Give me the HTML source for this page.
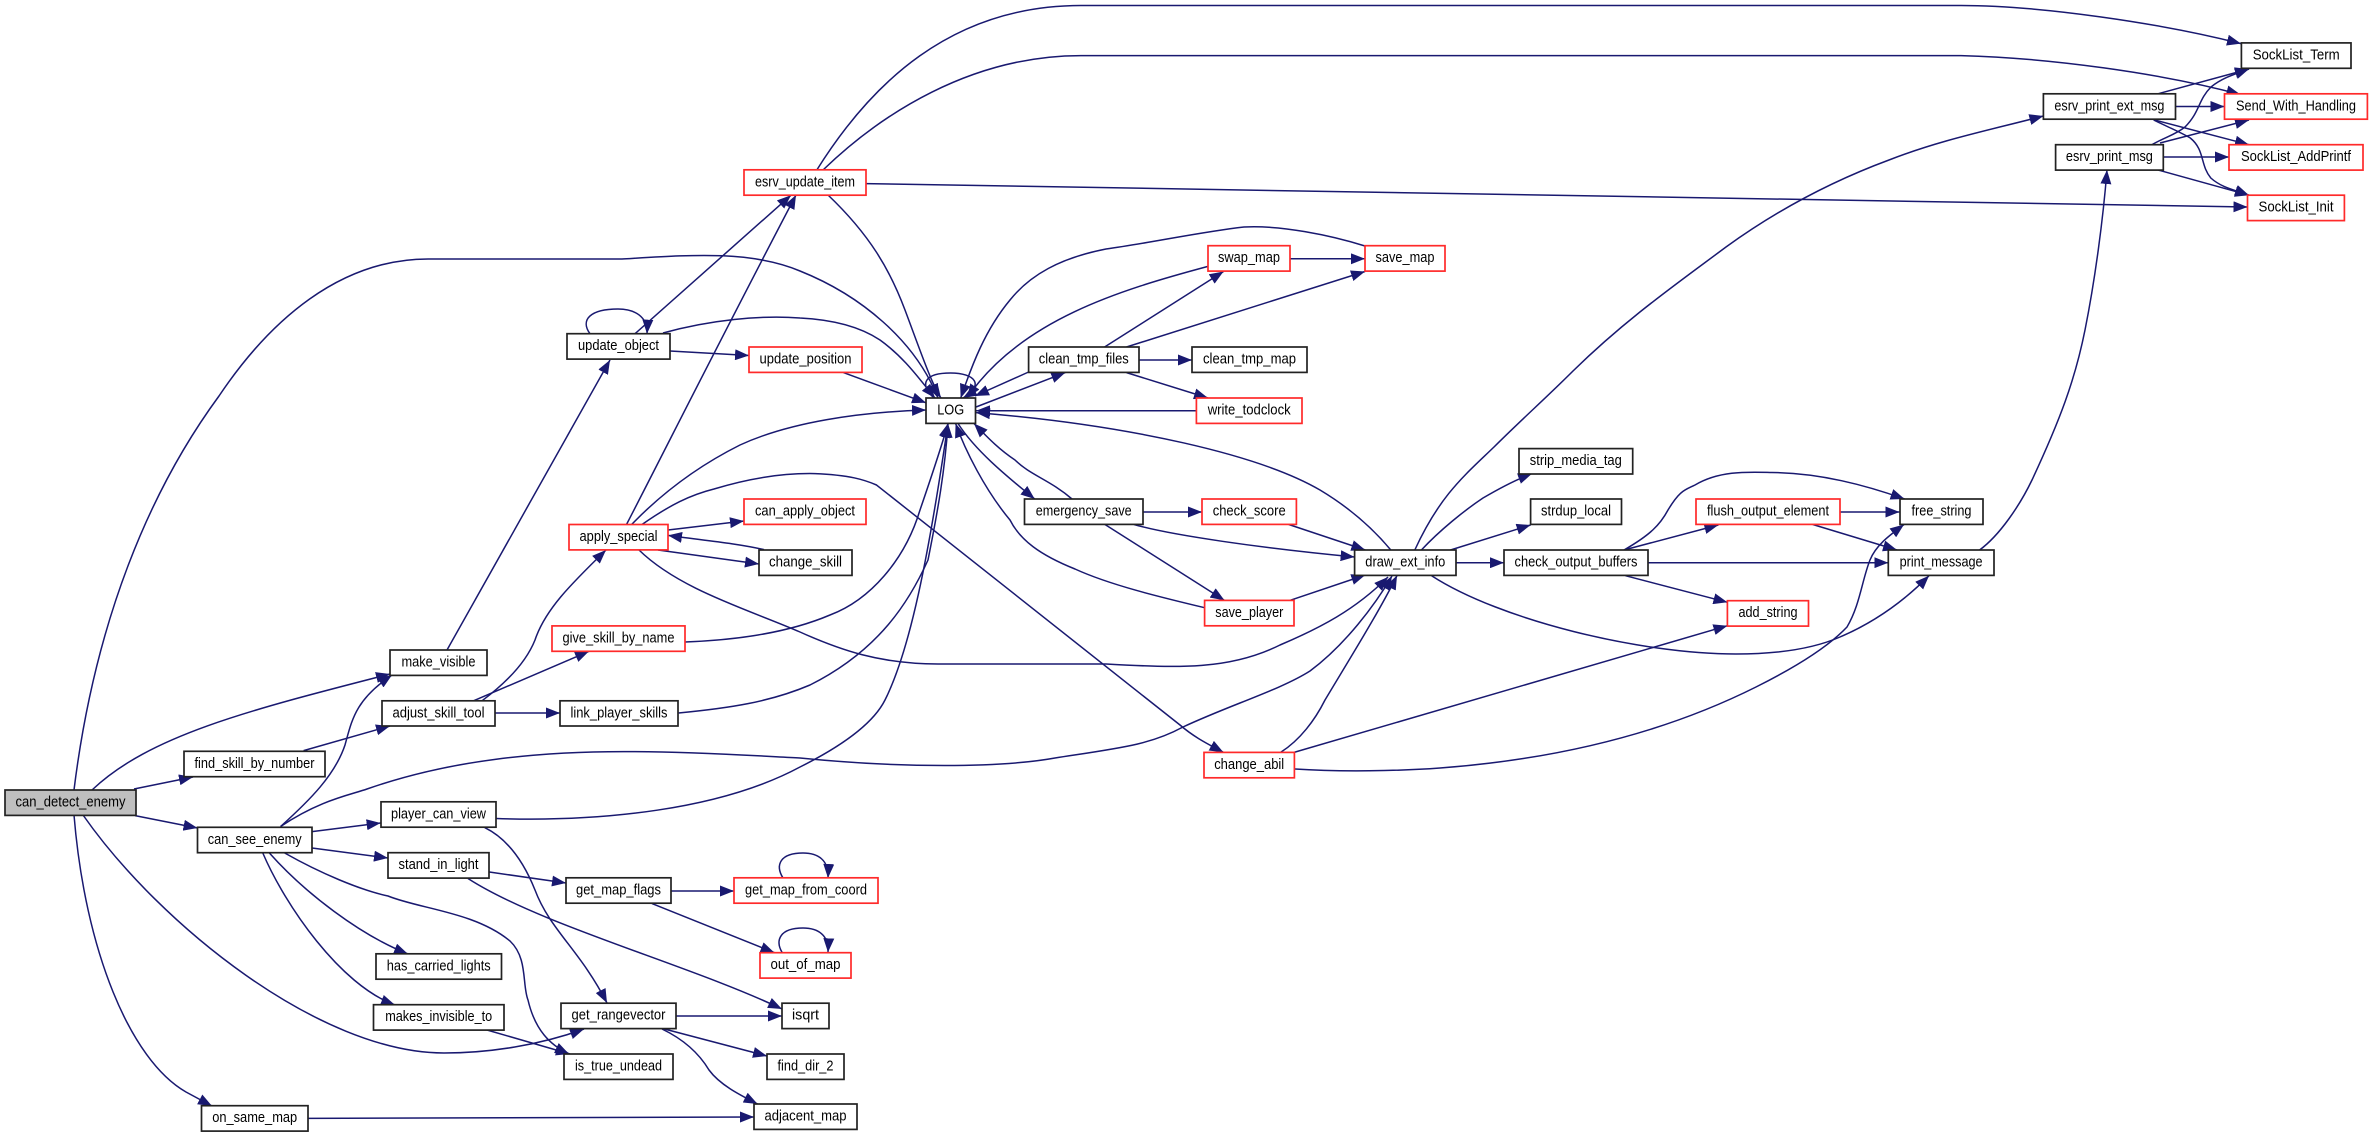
<!DOCTYPE html>
<html><head><meta charset="utf-8"><title>can_detect_enemy call graph</title>
<style>
html,body{margin:0;padding:0;background:#fff}
svg{display:block}
.e path,.e line{fill:none;stroke:#191970;stroke-width:1.5;marker-end:url(#a)}
.n rect{fill:#fff;stroke:#222;stroke-width:1.7}
.r rect{fill:#fff;stroke:#ff2a2a;stroke-width:1.7}
text{font-family:"Liberation Sans",sans-serif;font-size:15px;fill:#000;text-anchor:middle;transform:translateY(-.5px)}
</style></head><body>
<svg xmlns="http://www.w3.org/2000/svg" width="2373" height="1137" viewBox="0 0 2373 1137">
<defs><marker id="a" markerUnits="userSpaceOnUse" markerWidth="14" markerHeight="11" viewBox="0 0 14 11" refX="14" refY="5.5" orient="auto"><path d="M0,0L14,5.5L0,11Z" fill="#191970"/></marker></defs>
<g class="e">
<path d="M74,790 C95,620 150,490 219,396 C270,320 340,259 428,259 L622,259 C690,255 750,250 800,271 C860,295 915,340 938,398"/>
<path d="M92,790 C150,735 250,710 390,674"/>
<path d="M134,789 L193,777"/>
<path d="M135,815.6 L197.5,828"/>
<path d="M83,815 C160,925 320,1053 444,1053 C490,1053 540,1045 584,1029"/>
<path d="M74,815 C85,950 130,1060 186,1092 L212,1106"/>
<path d="M308,1118.4 L754,1117"/>
<path d="M303.6,750.6 L390,726"/>
<path d="M280.6,826.5 C310,800 335,775 345,745 C352,720 355,700 392,675"/>
<path d="M280.6,826.5 C320,800 350,795 367,789 C450,760 540,751 632,751.6 C700,752 760,756 800,758 C900,768 1000,768 1055,758 C1120,748 1150,745 1183,727 C1230,705 1280,690 1310,671 C1345,645 1375,605 1392,576"/>
<path d="M312,831.6 L380.6,823"/>
<path d="M312,848 L388,858"/>
<path d="M284.7,853 C320,873 360,890 388,896 C420,909 475,912 510,941 C528,958 522,985 528,1000 C535,1030 550,1045 569,1054"/>
<path d="M269.4,853 C305,893 360,935 408,954"/>
<path d="M262.8,853 C285,905 340,985 395,1005"/>
<path d="M487,1030 L570,1054"/>
<path d="M447,650 L610,360"/>
<path d="M473.5,700.8 L589,651.3"/>
<path d="M495.4,713 L560,713"/>
<path d="M482,700.8 C510,680 527,660 535,640 C545,610 570,585 606,550"/>
<path d="M685,642 C740,640 790,632 830,615 C870,600 905,560 920,510 C932,475 942,445 948,423.5"/>
<path d="M678.6,713 C730,708 770,702 810,685 C880,650 910,600 928,560 C938,510 945,470 948,423.5"/>
<path d="M496.4,818.5 C600,822 720,810 800,767 C850,742 875,720 885,700 C910,650 928,560 948,423.5"/>
<path d="M484.7,827.6 C510,840 525,865 535,890 C550,930 580,950 607,1003"/>
<path d="M489.3,872 L566,883"/>
<path d="M468,878.5 C540,925 690,965 782,1009"/>
<path d="M671,891 L734,891"/>
<path d="M652,903.6 L774.5,952.7"/>
<path d="M783,878 C775,865 780,853 803,853 C818,853 829,860 828,878"/>
<path d="M782,952.3 C775,940 780,928 803,928 C818,928 829,935 828,952.3"/>
<path d="M590,333.7 C580,320 590,309 618,309 C635,309 648,317 647,333.7"/>
<path d="M934,398 C918,383 926,373 950.5,373 C975,373 985,385 963,398"/>
<path d="M635,333.7 L791,195.2"/>
<path d="M663,333 C710,320 760,315 800,318 C840,320 865,330 880,340 C905,358 920,380 935,398"/>
<path d="M670,351 L749,355.5"/>
<path d="M843.4,372.6 L926,402.8"/>
<path d="M626.5,524.5 C665,450 720,340 796,195"/>
<path d="M631.6,524.5 C665,490 700,465 740,445 C790,422 860,412 926,410"/>
<path d="M642,524.5 C670,505 690,495 714,489 C750,478 785,473 815,473.6 C850,475 865,480 876.5,485 L1180,725 C1195,738 1210,745 1223.5,752.4"/>
<path d="M668,530 L744,521"/>
<path d="M658,550 L759,564"/>
<path d="M764,549.6 C735,543 700,540 668,535.4"/>
<path d="M639,550 C680,590 750,610 800,632 C840,650 880,664 938,664 L1106,664 C1180,668 1230,670 1280,645 C1320,628 1355,610 1388,577"/>
<path d="M816.8,170 C870,85 950,5.5 1081,5.5 L1961,5.5 C2040,5.5 2160,23 2241,43.6"/>
<path d="M823,170 C880,115 970,55.6 1081,55.6 L1961,55.6 C2050,58 2160,73 2240.4,94.5"/>
<path d="M866,183.6 L2247.5,207"/>
<path d="M828,195 C870,235 890,270 905,310 C920,350 932,385 941,398"/>
<path d="M1208,266.4 C1120,290 1020,320 967,398"/>
<path d="M1365,246 C1330,235 1280,225 1244,227 C1200,232 1150,243 1106,249 C1060,258 1030,275 1010,300 C985,330 972,365 960.7,398"/>
<path d="M976,407 L1065.3,372.6"/>
<path d="M1028.6,372 L975,396"/>
<path d="M1139,360 L1192,360"/>
<path d="M1126.5,372.6 L1208,398"/>
<path d="M1104.6,347 L1223.5,271.5"/>
<path d="M1126.5,347 L1365,271.5"/>
<path d="M1290,258.8 L1365,258.8"/>
<path d="M1196.4,410.8 L976,410.8"/>
<path d="M1390.8,550 C1370,525 1345,505 1320,490 C1260,455 1130,425 976,412.6"/>
<path d="M1072,499 C1050,480 1030,475 1015,460 C1000,450 990,440 974,423.5"/>
<path d="M958,423.5 C975,450 1005,475 1034.7,499"/>
<path d="M1204.6,607.7 C1160,597 1110,585 1075,569 C1040,555 1020,540 1010,520 C985,490 965,450 955.6,423.5"/>
<path d="M1143.4,512 L1202,512"/>
<path d="M1134,524.5 C1170,535 1260,548 1354.6,557"/>
<path d="M1105,524.5 L1224.5,600.4"/>
<path d="M1288.8,524.5 L1365.3,550"/>
<path d="M1289.8,600.4 L1365.3,575"/>
<path d="M1280.6,752.4 C1300,740 1315,720 1325,700 C1355,650 1380,610 1397,575.5"/>
<path d="M1294,752.4 L1727.4,625.7"/>
<path d="M1295,769 C1340,772 1400,771 1440,768 C1520,762 1640,745 1756,687 C1800,665 1830,645 1847,627 C1860,605 1862,580 1870,560 C1876,545 1890,535 1904,524.5"/>
<path d="M1431.6,575.7 C1500,620 1640,654 1736,654 C1780,654 1815,648 1840,637 C1875,622 1905,600 1929,575.7"/>
<path d="M1414.8,550 C1440,495 1465,475 1494,447 C1520,421 1547,397 1573,371 C1625,320 1675,285 1726,247 C1780,208 1835,180 1889,160 C1940,140 1990,130 2043.4,116"/>
<path d="M1421.4,550 C1440,530 1465,510 1483,498 C1500,488 1515,480 1532,473.6"/>
<path d="M1450.5,550 L1530.6,525"/>
<path d="M1456,562.7 L1504,562.7"/>
<path d="M1625.4,575.7 L1727.4,602.3"/>
<path d="M1624,550 L1718.4,525"/>
<path d="M1624,550 C1650,535 1660,525 1668,510 C1680,490 1685,490 1695,485 C1720,470 1750,472 1772,472.5 C1820,473 1865,485 1904.6,499"/>
<path d="M1648,562.7 L1888.3,562.7"/>
<path d="M1840,512 L1899.5,512"/>
<path d="M1812.8,524.5 L1897,550"/>
<path d="M1979.6,550 C2000,535 2020,505 2032,480 C2060,420 2075,380 2085,330 C2095,280 2103,220 2107,170"/>
<path d="M2158,93.8 L2249,69"/>
<path d="M2175.5,106.5 L2224.5,106.5"/>
<path d="M2154.6,120 L2249,144.7"/>
<path d="M2153.6,120 C2170,128 2180,132 2190.3,138 C2205,150 2200,165 2210.8,178 C2222,188 2235,190 2249,195.2"/>
<path d="M2152,144.7 C2165,137 2175,135 2185,127 C2200,112 2198,100 2211,87 C2222,78 2235,74 2249,69"/>
<path d="M2160,143 L2249,120"/>
<path d="M2163,157 L2229,157"/>
<path d="M2158,170 L2249,195.2"/>
<path d="M676,1016 L782,1016"/>
<path d="M663,1028.6 L767,1056"/>
<path d="M662,1029 C685,1040 700,1055 709,1070 C720,1085 740,1095 757.6,1104"/>
</g>
<g class="n">
<rect x="5" y="790" width="131" height="25.4" style="fill:#bfbfbf"/><text x="70.5" y="807" textLength="110" lengthAdjust="spacingAndGlyphs">can_detect_enemy</text>
<rect x="184" y="751.3" width="141" height="25.4"/><text x="254.5" y="768.3" textLength="120" lengthAdjust="spacingAndGlyphs">find_skill_by_number</text>
<rect x="390" y="650" width="97" height="25.4"/><text x="438.5" y="667" textLength="74" lengthAdjust="spacingAndGlyphs">make_visible</text>
<rect x="382" y="700.8" width="113" height="25.2"/><text x="438.5" y="717.8" textLength="92" lengthAdjust="spacingAndGlyphs">adjust_skill_tool</text>
<rect x="560" y="700.8" width="118" height="25.2"/><text x="619" y="717.8" textLength="97" lengthAdjust="spacingAndGlyphs">link_player_skills</text>
<rect x="197.5" y="827.3" width="114.5" height="25.4"/><text x="254.7" y="844.3" textLength="94" lengthAdjust="spacingAndGlyphs">can_see_enemy</text>
<rect x="381" y="801.8" width="115" height="25.4"/><text x="438.5" y="818.8" textLength="95" lengthAdjust="spacingAndGlyphs">player_can_view</text>
<rect x="388" y="852.7" width="101" height="25.4"/><text x="438.5" y="869.7" textLength="80" lengthAdjust="spacingAndGlyphs">stand_in_light</text>
<rect x="566" y="877.8" width="105" height="25.4"/><text x="618.5" y="894.8" textLength="85" lengthAdjust="spacingAndGlyphs">get_map_flags</text>
<rect x="376" y="953.8" width="125.5" height="25.4"/><text x="438.7" y="970.8" textLength="104" lengthAdjust="spacingAndGlyphs">has_carried_lights</text>
<rect x="373.5" y="1004.7" width="130.5" height="25.4"/><text x="438.7" y="1021.7" textLength="107" lengthAdjust="spacingAndGlyphs">makes_invisible_to</text>
<rect x="561" y="1003.2" width="115" height="25.4"/><text x="618.5" y="1020.2" textLength="94" lengthAdjust="spacingAndGlyphs">get_rangevector</text>
<rect x="782" y="1003.2" width="47" height="25.4"/><text x="805.5" y="1020.2" textLength="27" lengthAdjust="spacingAndGlyphs">isqrt</text>
<rect x="564" y="1054" width="109" height="25.4"/><text x="618.5" y="1071" textLength="87" lengthAdjust="spacingAndGlyphs">is_true_undead</text>
<rect x="767" y="1054" width="77" height="25.4"/><text x="805.5" y="1071" textLength="56" lengthAdjust="spacingAndGlyphs">find_dir_2</text>
<rect x="201.5" y="1105.7" width="106.5" height="25.4"/><text x="254.7" y="1122.7" textLength="85" lengthAdjust="spacingAndGlyphs">on_same_map</text>
<rect x="754" y="1104" width="103" height="25.4"/><text x="805.5" y="1121" textLength="82" lengthAdjust="spacingAndGlyphs">adjacent_map</text>
<rect x="567" y="333.7" width="103" height="25.4"/><text x="618.5" y="350.7" textLength="81" lengthAdjust="spacingAndGlyphs">update_object</text>
<rect x="759" y="550" width="93" height="25.4"/><text x="805.5" y="567" textLength="73" lengthAdjust="spacingAndGlyphs">change_skill</text>
<rect x="926" y="398" width="49.5" height="25.4"/><text x="950.7" y="415" textLength="27" lengthAdjust="spacingAndGlyphs">LOG</text>
<rect x="1028.6" y="347" width="110.4" height="25.4"/><text x="1083.8" y="364" textLength="90" lengthAdjust="spacingAndGlyphs">clean_tmp_files</text>
<rect x="1192" y="347" width="115" height="25.4"/><text x="1249.5" y="364" textLength="93" lengthAdjust="spacingAndGlyphs">clean_tmp_map</text>
<rect x="1024.5" y="499" width="118.5" height="25.4"/><text x="1083.7" y="516" textLength="96" lengthAdjust="spacingAndGlyphs">emergency_save</text>
<rect x="1354.6" y="550" width="101.4" height="25.4"/><text x="1405.3" y="567" textLength="80" lengthAdjust="spacingAndGlyphs">draw_ext_info</text>
<rect x="1519" y="448.6" width="113.7" height="25.4"/><text x="1575.8" y="465.6" textLength="92" lengthAdjust="spacingAndGlyphs">strip_media_tag</text>
<rect x="1530.6" y="499" width="90.9" height="25.4"/><text x="1576" y="516" textLength="70" lengthAdjust="spacingAndGlyphs">strdup_local</text>
<rect x="1504" y="550" width="144" height="25.4"/><text x="1576" y="567" textLength="123" lengthAdjust="spacingAndGlyphs">check_output_buffers</text>
<rect x="1900" y="499" width="83" height="25.4"/><text x="1941.5" y="516" textLength="60" lengthAdjust="spacingAndGlyphs">free_string</text>
<rect x="1888.3" y="550" width="105.7" height="25.4"/><text x="1941.1" y="567" textLength="83" lengthAdjust="spacingAndGlyphs">print_message</text>
<rect x="2241.4" y="42.9" width="109.6" height="25.4"/><text x="2296.2" y="59.9" textLength="87" lengthAdjust="spacingAndGlyphs">SockList_Term</text>
<rect x="2043.4" y="93.8" width="132.1" height="25.4"/><text x="2109.4" y="110.8" textLength="110" lengthAdjust="spacingAndGlyphs">esrv_print_ext_msg</text>
<rect x="2055.6" y="144.7" width="107.7" height="25.4"/><text x="2109.4" y="161.7" textLength="87" lengthAdjust="spacingAndGlyphs">esrv_print_msg</text>
</g>
<g class="r">
<rect x="744" y="169.8" width="122" height="25.4"/><text x="805" y="186.8" textLength="100" lengthAdjust="spacingAndGlyphs">esrv_update_item</text>
<rect x="749" y="347" width="113" height="25.4"/><text x="805.5" y="364" textLength="92" lengthAdjust="spacingAndGlyphs">update_position</text>
<rect x="569" y="524.5" width="99" height="25.4"/><text x="618.5" y="541.5" textLength="78" lengthAdjust="spacingAndGlyphs">apply_special</text>
<rect x="744" y="499" width="122" height="25.4"/><text x="805" y="516" textLength="100" lengthAdjust="spacingAndGlyphs">can_apply_object</text>
<rect x="552" y="625.9" width="133" height="25.4"/><text x="618.5" y="642.9" textLength="112" lengthAdjust="spacingAndGlyphs">give_skill_by_name</text>
<rect x="734" y="877.8" width="144" height="25.4"/><text x="806" y="894.8" textLength="122" lengthAdjust="spacingAndGlyphs">get_map_from_coord</text>
<rect x="760" y="952.7" width="91" height="25.4"/><text x="805.5" y="969.7" textLength="70" lengthAdjust="spacingAndGlyphs">out_of_map</text>
<rect x="1208" y="245.7" width="82" height="25.4"/><text x="1249" y="262.7" textLength="62" lengthAdjust="spacingAndGlyphs">swap_map</text>
<rect x="1365" y="245.7" width="80" height="25.4"/><text x="1405" y="262.7" textLength="59" lengthAdjust="spacingAndGlyphs">save_map</text>
<rect x="1196.4" y="398" width="105.6" height="25.4"/><text x="1249.2" y="415" textLength="83" lengthAdjust="spacingAndGlyphs">write_todclock</text>
<rect x="1202" y="499" width="94.4" height="25.4"/><text x="1249.2" y="516" textLength="73" lengthAdjust="spacingAndGlyphs">check_score</text>
<rect x="1204.6" y="600.4" width="89.4" height="25.4"/><text x="1249.3" y="617.4" textLength="68" lengthAdjust="spacingAndGlyphs">save_player</text>
<rect x="1204" y="752.4" width="90.4" height="25.4"/><text x="1249.2" y="769.4" textLength="70" lengthAdjust="spacingAndGlyphs">change_abil</text>
<rect x="1696" y="499" width="144" height="25.4"/><text x="1768" y="516" textLength="122" lengthAdjust="spacingAndGlyphs">flush_output_element</text>
<rect x="1727.4" y="600.7" width="81.1" height="25.4"/><text x="1768" y="617.7" textLength="59" lengthAdjust="spacingAndGlyphs">add_string</text>
<rect x="2224.5" y="93.8" width="142.9" height="25.4"/><text x="2296" y="110.8" textLength="120" lengthAdjust="spacingAndGlyphs">Send_With_Handling</text>
<rect x="2229" y="144.7" width="134" height="25.4"/><text x="2296" y="161.7" textLength="110" lengthAdjust="spacingAndGlyphs">SockList_AddPrintf</text>
<rect x="2247.5" y="195.2" width="96.9" height="25.4"/><text x="2296" y="212.2" textLength="75" lengthAdjust="spacingAndGlyphs">SockList_Init</text>
</g>
</svg>
</body></html>
